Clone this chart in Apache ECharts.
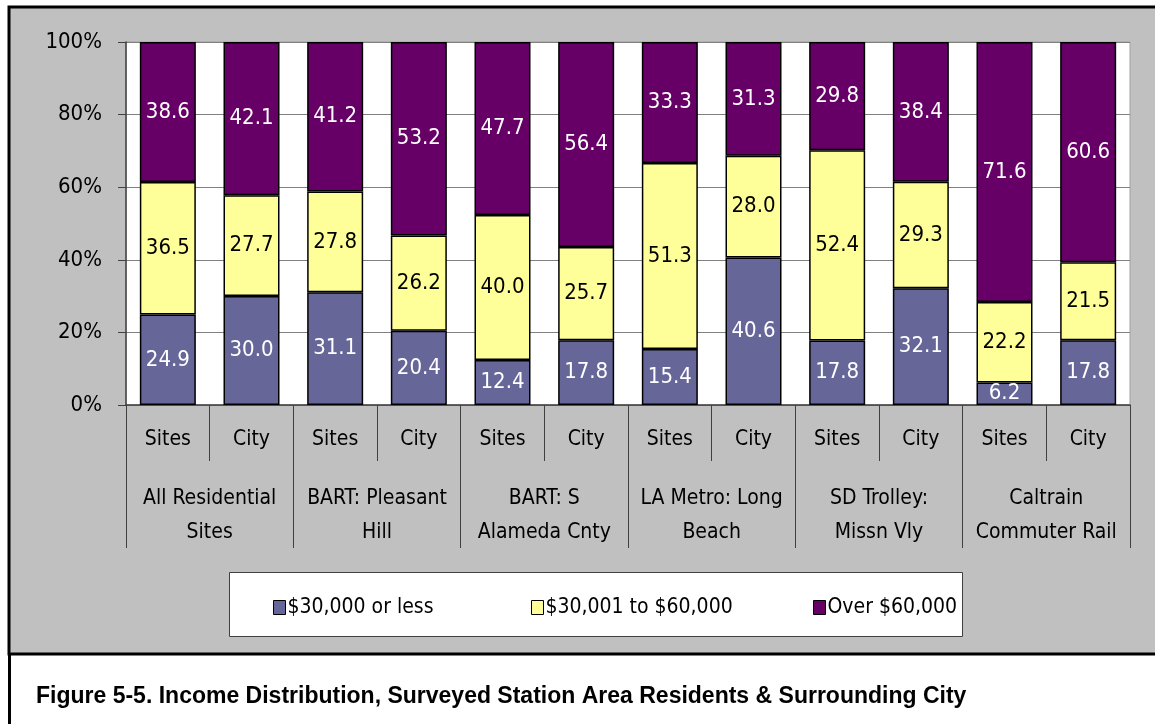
<!DOCTYPE html>
<html>
<head>
<meta charset="utf-8">
<script src="https://cdn.jsdelivr.net/npm/echarts@6/dist/echarts.min.js"></script>
<style>
  html, body { margin: 0; padding: 0; background: #fff; }
  #incomeChart { width: 1155px; height: 724px; }
</style>
</head>
<body>
<div id="incomeChart"></div>
<script>
// categories
const subLabels = ['Sites', 'City', 'Sites', 'City', 'Sites', 'City', 'Sites', 'City', 'Sites', 'City', 'Sites', 'City'];
const groupLabels = ['All Residential\nSites', 'BART: Pleasant\nHill', 'BART: S\nAlameda Cnty', 'LA Metro: Long\nBeach', 'SD Trolley:\nMissn Vly', 'Caltrain\nCommuter Rail'];
const yTicks = [0, 20, 40, 60, 80, 100];

// series values (percent of households)
const under30k = [24.9, 30.0, 31.1, 20.4, 12.4, 17.8, 15.4, 40.6, 17.8, 32.1, 6.2, 17.8];
const mid30to60k = [36.5, 27.7, 27.8, 26.2, 40.0, 25.7, 51.3, 28.0, 52.4, 29.3, 22.2, 21.5];
const over60k = [38.6, 42.1, 41.2, 53.2, 47.7, 56.4, 33.3, 31.3, 29.8, 38.4, 71.6, 60.6];

const seriesNames = ['$30,000 or less', '$30,001 to $60,000', 'Over $60,000'];
const colors = ['#666699', '#FFFF99', '#660066'];
const labelColors = ['#fff', '#000', '#fff'];

const narrow = "'Liberation Sans Narrow', 'Arial Narrow', 'DejaVu Sans Condensed', sans-serif";

// 100% stacked: normalise each column to its total
const raw = [under30k, mid30to60k, over60k];
const totals = subLabels.map((_, i) => raw.reduce((s, arr) => s + arr[i], 0));

const myChart = echarts.init(document.getElementById('incomeChart'));

const legendLefts = [268, 526, 808];

const option = {
  animation: false,
  backgroundColor: '#fff',
  textStyle: { fontFamily: narrow },
  title: {
    text: 'Figure 5-5. Income Distribution, Surveyed Station Area Residents & Surrounding City',
    left: 31,
    top: 680,
    textStyle: {
      fontFamily: "'Liberation Sans', Arial, sans-serif",
      fontSize: 23,
      fontWeight: 'bold',
      color: '#000'
    }
  },
  graphic: [
    {
      type: 'rect',
      z: -10,
      silent: true,
      shape: { x: 9, y: 7, width: 1150, height: 647 },
      style: { fill: '#c0c0c0', stroke: '#000', lineWidth: 3 }
    },
    {
      type: 'line',
      z: -10,
      silent: true,
      shape: { x1: 9.5, y1: 654, x2: 9.5, y2: 724 },
      style: { stroke: '#000', lineWidth: 3 }
    },
    {
      type: 'rect',
      z: -5,
      silent: true,
      shape: { x: 229.5, y: 572.5, width: 733, height: 64 },
      style: { fill: '#fff', stroke: '#404040', lineWidth: 1 }
    }
  ],
  legend: seriesNames.map((name, k) => ({
    left: legendLefts[k],
    top: 592,
    itemWidth: 12,
    itemHeight: 14,
    icon: 'rect',
    itemStyle: { borderColor: '#000', borderWidth: 1 },
    textStyle: { fontSize: 21, color: '#000', fontFamily: narrow, padding: [0, 0, 0, -3] },
    data: [name]
  })),
  grid: {
    left: 126,
    right: 25,
    top: 42,
    bottom: 319,
    show: true,
    backgroundColor: '#fff',
    borderColor: '#a0a0a0',
    borderWidth: 1
  },
  xAxis: [
    {
      type: 'category',
      data: subLabels,
      position: 'bottom',
      axisLine: { lineStyle: { color: '#404040', width: 1.5 } },
      axisTick: { show: true, interval: 0, length: 56, lineStyle: { color: '#404040' } },
      axisLabel: { interval: 0, margin: 24, fontSize: 21, color: '#000', fontFamily: narrow }
    },
    {
      type: 'category',
      data: groupLabels,
      position: 'bottom',
      axisLine: { show: false },
      axisTick: { show: true, interval: 0, length: 143, lineStyle: { color: '#404040' } },
      axisLabel: { interval: 0, margin: 77, fontSize: 21, lineHeight: 34, color: '#000', fontFamily: narrow }
    }
  ],
  yAxis: {
    type: 'value',
    min: yTicks[0],
    max: yTicks[yTicks.length - 1],
    interval: 20,
    axisLine: { show: true, lineStyle: { color: '#404040', width: 1.5 } },
    axisTick: { show: true, length: 8, lineStyle: { color: '#404040' } },
    axisLabel: { formatter: '{value}%', margin: 24, fontSize: 22, color: '#000', fontFamily: narrow },
    splitLine: { lineStyle: { color: '#808080', width: 1 } }
  },
  series: raw.map((arr, k) => ({
    name: seriesNames[k],
    type: 'bar',
    stack: 'income',
    xAxisIndex: 0,
    barWidth: 56,
    data: arr.map((v, i) => v / totals[i] * 100),
    itemStyle: { color: colors[k], borderColor: '#000', borderWidth: 1.5 },
    label: {
      show: true,
      position: 'inside',
      color: labelColors[k],
      fontSize: 22,
      fontFamily: narrow,
      formatter: p => arr[p.dataIndex].toFixed(1)
    }
  }))
};

myChart.setOption(option);
window.addEventListener('resize', () => {
  myChart.resize();
});
</script>
</body>
</html>
